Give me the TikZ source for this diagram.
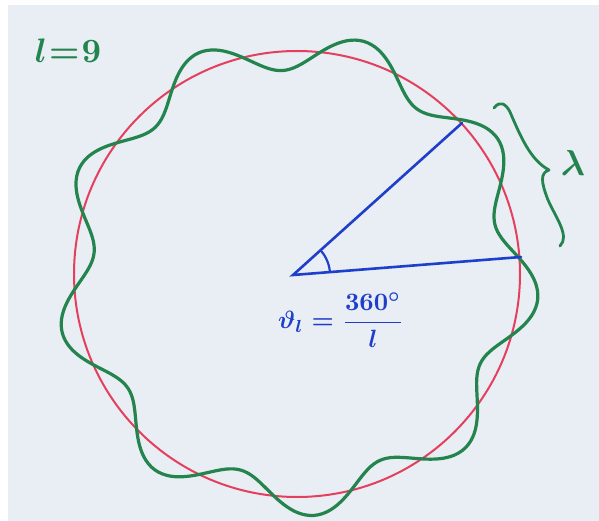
\documentclass[tikz,border=0pt]{standalone}
\usepackage{amsmath}
\usetikzlibrary{positioning}
\definecolor{paper}{HTML}{E9EDF4}
\definecolor{ringred}{HTML}{E4405E}
\definecolor{wavegreen}{HTML}{23844E}
\definecolor{rayblue}{HTML}{1E3FCC}
\tikzset{
  ring/.style={draw=ringred,line width=2pt},
  wave/.style={draw=wavegreen,line width=3.2pt,line join=round},
  ray/.style={draw=rayblue,line width=2.6pt,line cap=round},
  bracket/.style={draw=wavegreen,line width=2.8pt,line cap=round,line join=round},
  greentext/.style={text=wavegreen,inner sep=0pt,font=\boldmath},
  bluetext/.style={text=rayblue,inner sep=0pt,font=\boldmath}
}

\begin{document}
\begin{tikzpicture}[x=1pt,y=-1pt]
  \useasboundingbox (0,0) rectangle (599,521);
  \fill[paper] (8,5) rectangle (599,521);
  % circle and standing wave with l = 9
  \coordinate (centre) at (297,274);
  \draw[ring] (centre) circle[radius=223];
  \draw[wave] plot[domain=0:360,samples=361,smooth]
    ({297+(223-19*sin(9*(\x-4)))*cos(\x)},{274-(223-19*sin(9*(\x-4)))*sin(\x)}) -- cycle;
  % angle between two neighbouring nodes
  \coordinate (vertex) at (293,275);
  \coordinate (upper) at (462,123);
  \coordinate (lower) at (521,257);
  \draw[ray] (upper) -- (vertex) -- (lower);
  \draw[ray,line width=2.2pt] plot[domain=4.5:41.8,samples=20]
    ({293+37*cos(\x)},{275-37*sin(\x)});
  \node[bluetext,scale=2.5] (formula) at (341,320)
    {$\vartheta_l = \dfrac{\mathbf{360^\circ}}{l}$};
  % wavelength brace
  \coordinate (tip) at (549,170);
  \draw[bracket] (494,108) .. controls (500,100) and (506,104) .. (510,112)
    .. controls (520,135) and (530,160) .. (tip)
    .. controls (540,173) and (541,182) .. (548,200)
    .. controls (556,218) and (570,236) .. (560,246);
  \node[greentext,scale=3.6] (wavelength) at (573,163) {$\lambda$};
  \node[greentext,scale=3.4] (order) at (68,51) {$l\mkern1mu{=}\mkern1mu9$};
\end{tikzpicture}
\end{document}
